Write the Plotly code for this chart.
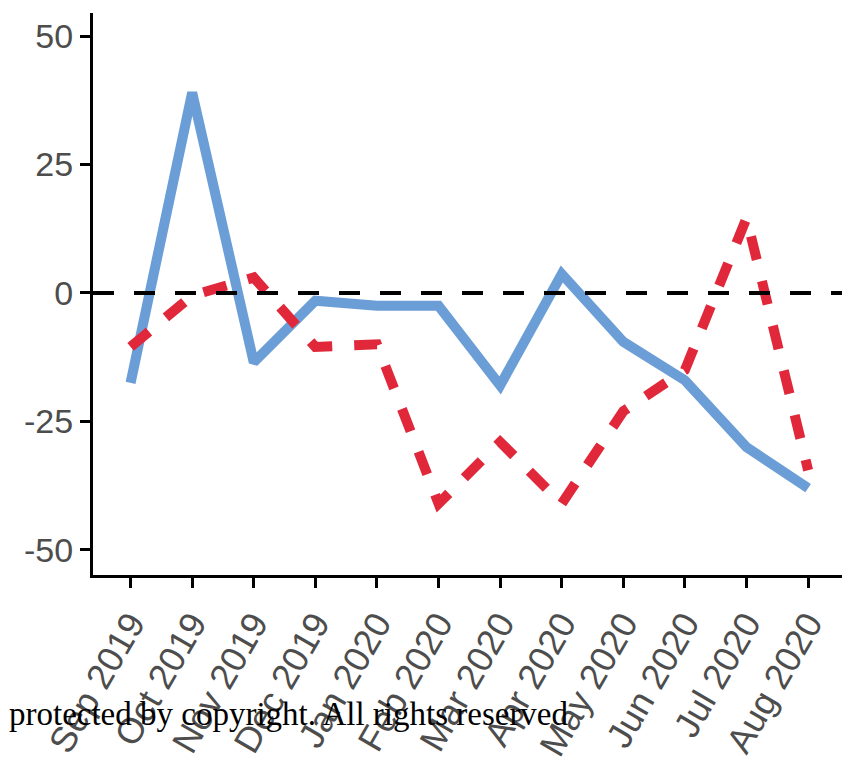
import plotly.graph_objects as go

months = ["Sep 2019", "Oct 2019", "Nov 2019", "Dec 2019", "Jan 2020", "Feb 2020",
          "Mar 2020", "Apr 2020", "May 2020", "Jun 2020", "Jul 2020", "Aug 2020"]
blue_values = [-17.5, 39.0, -13.5, -1.5, -2.5, -2.5, -18.0, 3.7, -9.5, -17.0, -30.0, -38.0]
red_values = [-10.5, -0.5, 3.0, -10.5, -10.0, -41.0, -29.0, -41.0, -23.0, -15.0, 14.6, -34.5]
y_ticks = [-50, -25, 0, 25, 50]

fig = go.Figure()
fig.add_trace(go.Scatter(x=months, y=blue_values, mode="lines",
                         line=dict(color="#6b9dd6", width=10), showlegend=False))
fig.add_trace(go.Scatter(x=months, y=red_values, mode="lines",
                         line=dict(color="#e0283a", width=10, dash="24px,22px"),
                         showlegend=False))

fig.add_shape(type="line", xref="paper", yref="y", x0=0, x1=1, y0=0, y1=0,
              line=dict(color="black", width=4, dash="21px,20px"), layer="above")

fig.add_annotation(text="protected by copyright. All rights reserved",
                   xref="paper", yref="paper", x=-86/757, y=-(714 - 575) / 562,
                   xanchor="left", yanchor="middle", showarrow=False,
                   font=dict(family="Liberation Serif", size=33, color="black"))

fig.update_layout(
    width=850, height=782,
    margin=dict(l=85, r=8, t=5, b=215, autoexpand=False),
    plot_bgcolor="white", paper_bgcolor="white",
    font=dict(family="Liberation Sans", color="#4d4d4d"),
)
fig.update_xaxes(type="category", categoryorder="array", categoryarray=months,
                 range=[-0.61, 11.68], showgrid=False, zeroline=False,
                 showline=True, linecolor="black", linewidth=3, automargin=False,
                 ticks="outside", ticklen=10, tickwidth=3, tickcolor="black",
                 tickangle=-60, tickfont=dict(size=36, color="#4d4d4d"))
fig.update_yaxes(range=[-54.9, 54.5], tickvals=y_ticks,
                 ticktext=[str(v) for v in y_ticks],
                 showgrid=False, zeroline=False, automargin=False,
                 showline=True, linecolor="black", linewidth=3,
                 ticks="outside", ticklen=10, tickwidth=3, tickcolor="black",
                 tickfont=dict(size=34, color="#4d4d4d"))

fig.write_html("out.html")
